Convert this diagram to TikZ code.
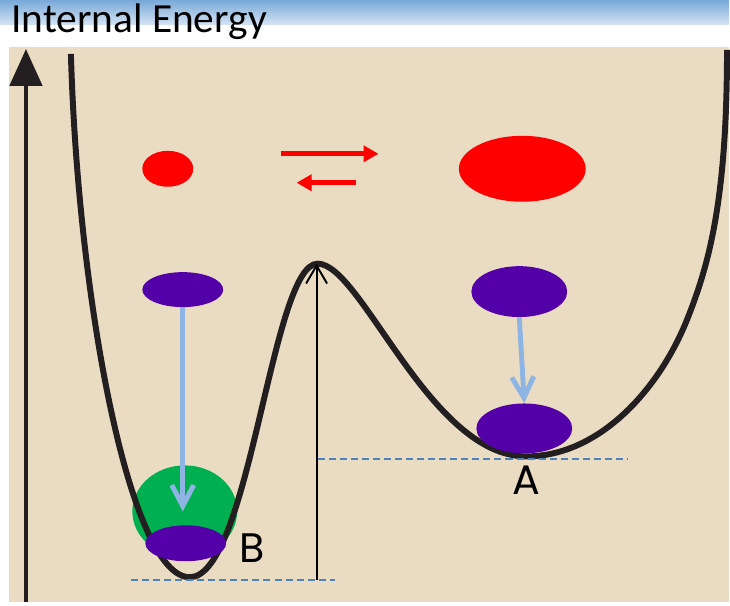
\documentclass[tikz,border=0pt]{standalone}
\usepackage{fontspec}
\setmainfont{Carlito}
\newfontfamily\lblfont{Poppins}
\usetikzlibrary{arrows.meta, shapes.geometric}
\definecolor{cBeige}{HTML}{EADCC3}
\definecolor{cHdrTop}{HTML}{78A9D8}
\definecolor{cHdrBot}{HTML}{D6E4F3}
\definecolor{cCurve}{HTML}{231F20}
\definecolor{cHot}{HTML}{FF0000}
\definecolor{cMol}{HTML}{5400A8}
\definecolor{cGreen}{HTML}{00B050}
\definecolor{cDrop}{HTML}{8EB4E3}
\definecolor{cDash}{HTML}{4F81BD}

\begin{document}
\begin{tikzpicture}[
    x=0.02cm, y=-0.02cm,
    blob/.style={ellipse, inner sep=0pt, draw=none},
    hot/.style={blob, fill=cHot},
    mol/.style={blob, fill=cMol},
    well/.style={line width=3.4pt, cCurve},
    lvl/.style={cDash, line width=1.1pt, dash pattern=on 4pt off 2.3pt},
    drop/.style={-{Straight Barb[length=0.42cm, width=0.44cm]}, line width=2.8pt, cDrop},
    flow/.style={-{Triangle[length=0.3cm, width=0.32cm]}, line width=2.8pt, cHot},
    barb/.style={-{Straight Barb[length=0.36cm, width=0.42cm]}, line width=1.1pt, black},
    axis/.style={-{Triangle[length=0.74cm, width=0.64cm]}, line width=2.8pt, cCurve},
    title/.style={font=\fontsize{23.6}{26}\selectfont, inner sep=0pt, anchor=base west},
    lbl/.style={font=\lblfont\fontsize{23.5}{26}\selectfont, inner sep=0pt, anchor=base},
]

% ===================== Fondo y cabecera =====================
\fill[white] (0,0) rectangle (730,606);
\shade[top color=cHdrTop, bottom color=cHdrBot] (0,0) rectangle (730,25);
\fill[cBeige] (9,47) rectangle (730,603);
\node[title] (title) at (11,33) {Internal Energy};

% ===================== Pozo B (relleno) =====================
\node[blob, fill=cGreen, minimum width=2.1cm, minimum height=1.84cm] (cloud) at (185,512) {};

% ===================== Curva de energia =====================
\coordinate (minB) at (190,578);
\coordinate (peak) at (318,264);
\coordinate (minA) at (527,457);
\draw[well] (71,54) .. controls (78,300) and (130,578) .. (minB)
      .. controls (250,578) and (272,264) .. (peak)
      .. controls (362,264) and (430,457) .. (minA)
      .. controls (600,457) and (660,390) .. (688,320)
      .. controls (710,265) and (728,200) .. (728,50);

% ===================== Niveles y barrera =====================
\draw[lvl] (131,581) -- (335,581);
\draw[lvl] (318,460) -- (628,460);
\coordinate (base) at (317,581);
\draw[barb] (base) -- (base |- peak);

% ===================== Moleculas =====================
\node[hot, minimum width=1.02cm, minimum height=0.72cm] (hotS) at (168,169) {};
\node[hot, minimum width=2.54cm, minimum height=1.32cm] (hotL) at (523,169) {};
\node[mol, minimum width=1.62cm, minimum height=0.70cm] (molL) at (183,290) {};
\node[mol, minimum width=1.92cm, minimum height=1.02cm] (molR) at (520,292) {};
\node[mol, minimum width=1.92cm, minimum height=1.00cm] (molA) at (525,429) {};
\node[mol, minimum width=1.62cm, minimum height=0.72cm] (molB) at (186,544) {};

% ===================== Equilibrio =====================
\coordinate (fwdS) at (281,154);
\coordinate (fwdE) at (379,154);
\coordinate (bwdS) at (356,183);
\coordinate (bwdE) at (297,183);
\draw[flow] (fwdS) -- (fwdE);
\draw[flow] (bwdS) -- (bwdE);

% ===================== Caidas =====================
\coordinate (tipB) at (183,512);
\draw[drop] (molL.south) -- (tipB);
\draw[drop] (molR.south) -- (molA.north);

% ===================== Etiquetas y eje =====================
\node[lbl] (labA) at (527,495) {A};
\node[lbl] (labB) at (252.5,563) {B};
\coordinate (axisBot) at (26,603);
\coordinate (axisTop) at (26,49);
\draw[axis] (axisBot) -- (axisTop);

\end{tikzpicture}
\end{document}
